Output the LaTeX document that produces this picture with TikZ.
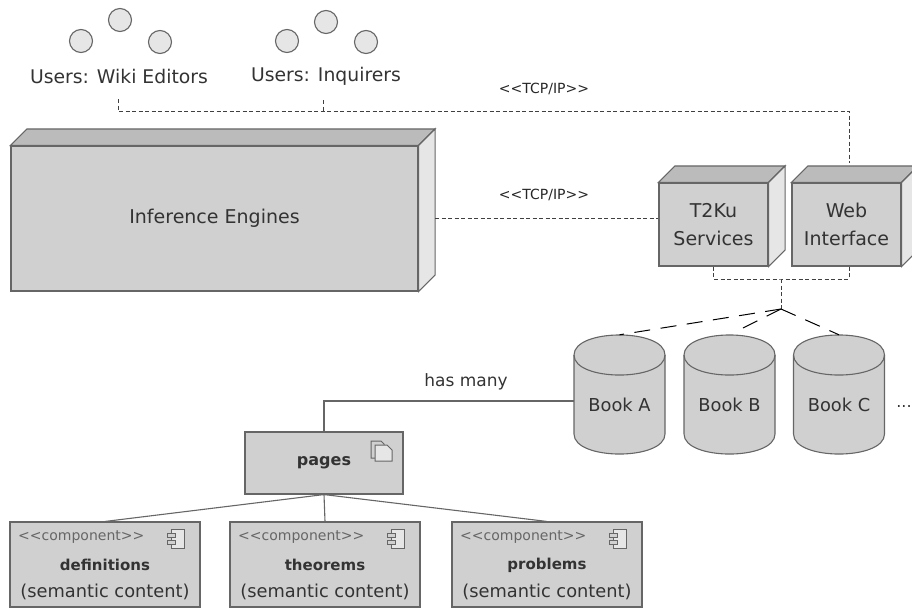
\documentclass[tikz,border=0pt]{standalone}
\usepackage{fontspec}
\setmainfont{DejaVu Sans}
\definecolor{linegray}{HTML}{666666}
\definecolor{boxgray}{HTML}{D0D0D0}
\definecolor{topgray}{HTML}{BBBBBB}
\definecolor{sidegray}{HTML}{E6E6E6}
\definecolor{textgray}{HTML}{333333}
\tikzset{
  plainline/.style={draw=linegray, line width=1.1pt},
  dashline/.style={draw=black!75, line width=0.9pt, dash pattern=on 4pt off 2.5pt},
  longdash/.style={draw=black, line width=1pt, dash pattern=on 16pt off 10.5pt},
  boxnode/.style={plainline, fill=boxgray, inner sep=0pt, text=textgray, align=center, font=\fontsize{19}{28}\selectfont},
  usernode/.style={circle, plainline, fill=sidegray, minimum size=23pt, inner sep=0pt},
  labeltext/.style={inner sep=0pt, text=textgray, font=\fontsize{18.8}{22}\selectfont},
  notetext/.style={inner sep=0pt, text=textgray, font=\fontsize{17.8}{22}\selectfont},
  nametext/.style={inner sep=0pt, text=textgray, font=\fontsize{15}{18}\selectfont\bfseries},
  tcptext/.style={inner sep=0pt, text=black!85, font=\fontsize{14}{16}\selectfont},
  booknode/.style={minimum width=91pt, minimum height=119pt, inner sep=0pt, text height=34pt, text depth=0pt, text=textgray, font=\fontsize{17.8}{20}\selectfont},
  bookbody/.pic={
    \draw[plainline, fill=boxgray] (-45.5,-39.5) .. controls (-45.5,-66.2) and (45.5,-66.2) .. (45.5,-39.5) -- (45.5,39.5) .. controls (45.5,66.2) and (-45.5,66.2) .. (-45.5,39.5) -- cycle;
    \draw[plainline] (-45.5,-39.5) .. controls (-45.5,-12.8) and (45.5,-12.8) .. (45.5,-39.5);
  },
  compicon/.pic={
    \draw[plainline, fill=sidegray, line width=1pt] (4,0) rectangle (17,19);
    \draw[plainline, fill=boxgray, line width=1pt] (0,4) rectangle (8,8);
    \draw[plainline, fill=boxgray, line width=1pt] (0,11) rectangle (8,15);
  },
  pageicon/.pic={
    \draw[plainline, fill=boxgray, line width=1pt] (0,0) -- (10,0) -- (13,3) -- (13,17) -- (0,17) -- cycle;
    \draw[plainline, fill=sidegray, line width=1pt] (4,4) -- (16,4) -- (21,9) -- (21,20) -- (4,20) -- cycle;
  }
}
% side and top faces of a device box
\newcommand{\devicefaces}[2]{
  \draw[plainline, fill=topgray] (#1.north west) -- ([shift={(#2,-#2)}]#1.north west) -- ([shift={(#2,-#2)}]#1.north east) -- (#1.north east) -- cycle;
  \draw[plainline, fill=sidegray] (#1.north east) -- ([shift={(#2,-#2)}]#1.north east) -- ([shift={(#2,-#2)}]#1.south east) -- (#1.south east) -- cycle;
}
\begin{document}
\begin{tikzpicture}[x=1pt, y=-1pt]
    \useasboundingbox (0,0) rectangle (912,608);

    % Users
    \foreach \uname/\ux/\uy in {a/81/41, b/120/20, c/160/42, d/287/41, e/326/22, f/366/42}
        \node[usernode] (user\uname) at (\ux,\uy) {};
    \node[labeltext] (wiki) at (119,76) {Users: Wiki Editors};
    \node[labeltext] (inquirers) at (326,76) {Users: Inquirers};

    % Devices
    \node[boxnode, minimum width=407pt, minimum height=145pt] (engines) at (214.5,218.5) {Inference Engines};
    \devicefaces{engines}{16.5}
    \node[boxnode, minimum width=109pt, minimum height=83pt] (t2ku) at (713.5,224.5) {T2Ku\\Services};
    \devicefaces{t2ku}{16.5}
    \node[boxnode, minimum width=109pt, minimum height=83pt] (web) at (846.5,224.5) {Web\\Interface};
    \devicefaces{web}{16.5}

    % Books
    \foreach \bname/\bx/\btext in {booka/619.5/Book A, bookb/729.5/Book B, bookc/839/Book C} {
        \pic at (\bx,394.5) {bookbody};
        \node[booknode] (\bname) at (\bx,394.5) {\btext};
    }
    \node[labeltext, font=\fontsize{16}{18}\selectfont] (more) at (904,407) {...};

    % Pages and its components
    \node[boxnode, minimum width=158pt, minimum height=62pt, font=\fontsize{16}{18}\selectfont\bfseries] (pages) at (324,463) {pages};
    \pic at (371,441) {pageicon};
    \foreach \cname/\cx/\ctext in {defn/105/definitions, thm/325/theorems, prob/547/problems} {
        \node[boxnode, minimum width=190pt, minimum height=85pt] (\cname) at (\cx,564.5) {};
        \node[tcptext, text=linegray, anchor=west] (\cname type) at (\cx-87,537) {{<}{<}component{>}{>}};
        \node[nametext] (\cname name) at (\cx,565) {\ctext};
        \node[notetext] (\cname note) at (\cx,592) {(semantic content)};
        \pic at (\cx+62,529) {compicon};
        \draw[plainline] (pages.south) -- (\cname.north);
    }

    % Connectors
    \coordinate (wikiport) at (118,99);
    \coordinate (inqport) at (323,100);
    \coordinate (inqjoin) at (323,111);
    \coordinate (webcorner) at (849,111);
    \coordinate (busjoin) at (781,279);
    \coordinate (fanout) at (781,309);
    \draw[dashline] (wikiport) |- (webcorner) -- ([shift={(2.5,-19.5)}]web.north);
    \draw[dashline] (inqport) -- (inqjoin);
    \draw[dashline] ([shift={(16.5,0)}]engines.east) -- (engines.east -| t2ku.west);
    \draw[dashline] (t2ku.south) |- (busjoin) -| ([shift={(2.5,0)}]web.south);
    \draw[dashline] (busjoin) -- (fanout);
    \foreach \bname/\bgap in {booka/0, bookb/6, bookc/0}
        \draw[longdash, shorten >=\bgap pt] (fanout) -- (\bname.north);
    \draw[plainline] ([shift={(0,6.5)}]booka.west) -| (pages.north);

    \node[tcptext] (tcpupper) at (544,89) {{<}{<}TCP/IP{>}{>}};
    \node[tcptext] (tcplower) at (544,195) {{<}{<}TCP/IP{>}{>}};
    \node[labeltext, font=\fontsize{17}{20}\selectfont] (hasmany) at (466,382) {has many};
\end{tikzpicture}
\end{document}
